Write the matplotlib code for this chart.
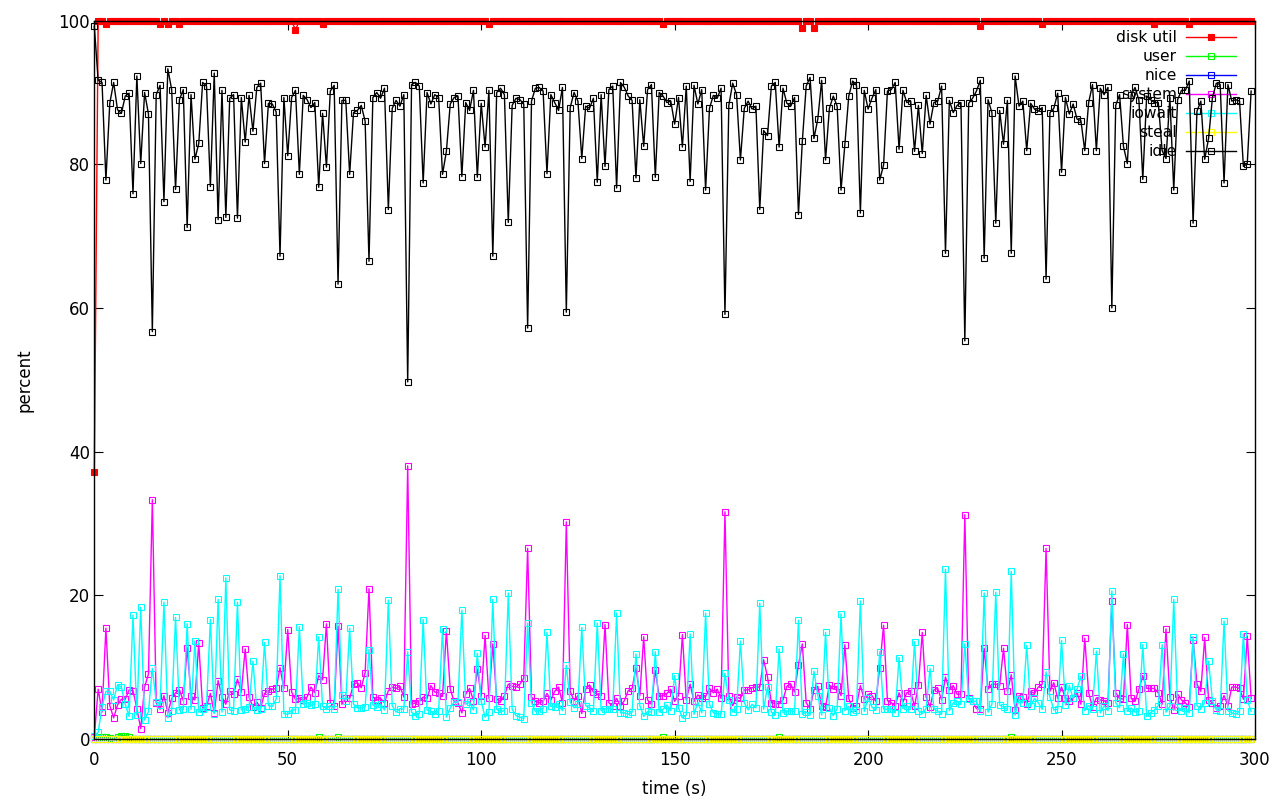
import matplotlib
matplotlib.use("Agg")
import matplotlib.pyplot as plt
import numpy as np

# one sample per second, 300 samples
seconds = list(range(300))

disk_util = [
    37.2, 100, 100, 99.6, 100, 100, 100, 100, 100, 100, 100, 100, 100, 100, 100, 100, 100, 99.6, 100, 99.6,
    100, 100, 99.6, 100, 100, 100, 100, 100, 100, 100, 100, 100, 100, 100, 100, 100, 100, 100, 100, 100,
    100, 100, 100, 100, 100, 100, 100, 100, 100, 100, 100, 100, 98.7, 100, 100, 100, 100, 100, 100, 99.6,
    100, 100, 100, 100, 100, 100, 100, 100, 100, 100, 100, 100, 100, 100, 100, 100, 100, 100, 100, 100,
    100, 100, 100, 100, 100, 100, 100, 100, 100, 100, 100, 100, 100, 100, 100, 100, 100, 100, 100, 100,
    100, 100, 99.6, 100, 100, 100, 100, 100, 100, 100, 100, 100, 100, 100, 100, 100, 100, 100, 100, 100,
    100, 100, 100, 100, 100, 100, 100, 100, 100, 100, 100, 100, 100, 100, 100, 100, 100, 100, 100, 100,
    100, 100, 100, 100, 100, 100, 100, 99.6, 100, 100, 100, 100, 100, 100, 100, 100, 100, 100, 100, 100,
    100, 100, 100, 100, 100, 100, 100, 100, 100, 100, 100, 100, 100, 100, 100, 100, 100, 100, 100, 100,
    100, 100, 100, 99.0, 100, 100, 99.0, 100, 100, 100, 100, 100, 100, 100, 100, 100, 100, 100, 100, 100,
    100, 100, 100, 100, 100, 100, 100, 100, 100, 100, 100, 100, 100, 100, 100, 100, 100, 100, 100, 100,
    100, 100, 100, 100, 100, 100, 100, 100, 100, 99.2, 100, 100, 100, 100, 100, 100, 100, 100, 100, 100,
    100, 100, 100, 100, 100, 99.6, 100, 100, 100, 100, 100, 100, 100, 100, 100, 100, 100, 100, 100, 100,
    100, 100, 100, 100, 100, 100, 100, 100, 100, 100, 100, 100, 100, 100, 99.6, 100, 100, 100, 100, 100,
    100, 100, 100, 99.6, 100, 100, 100, 100, 100, 100, 100, 100, 100, 100, 100, 100, 100, 100, 100, 100,
]

user = [
    0.0, 0.2, 0.2, 0.2, 0.1, 0.0, 0.3, 0.4, 0.4, 0.3, 0.0, 0.0, 0.0, 0.0, 0.0, 0.0, 0.0, 0.0, 0.0, 0.0,
    0.0, 0.0, 0.0, 0.0, 0.0, 0.0, 0.0, 0.0, 0.0, 0.0, 0.0, 0.0, 0.0, 0.0, 0.0, 0.0, 0.0, 0.0, 0.0, 0.0,
    0.0, 0.0, 0.0, 0.0, 0.0, 0.0, 0.0, 0.0, 0.0, 0.0, 0.0, 0.0, 0.0, 0.0, 0.0, 0.0, 0.0, 0.0, 0.2, 0.0,
    0.0, 0.0, 0.0, 0.2, 0.0, 0.0, 0.0, 0.0, 0.0, 0.0, 0.0, 0.0, 0.0, 0.0, 0.0, 0.0, 0.0, 0.0, 0.0, 0.0,
    0.0, 0.0, 0.0, 0.0, 0.0, 0.0, 0.0, 0.0, 0.0, 0.0, 0.0, 0.0, 0.0, 0.0, 0.0, 0.0, 0.0, 0.0, 0.0, 0.0,
    0.0, 0.0, 0.0, 0.0, 0.0, 0.0, 0.0, 0.0, 0.0, 0.0, 0.0, 0.0, 0.0, 0.0, 0.0, 0.0, 0.0, 0.0, 0.0, 0.0,
    0.0, 0.0, 0.0, 0.0, 0.0, 0.0, 0.0, 0.0, 0.0, 0.0, 0.0, 0.0, 0.0, 0.0, 0.0, 0.0, 0.0, 0.0, 0.0, 0.0,
    0.0, 0.0, 0.0, 0.0, 0.0, 0.0, 0.0, 0.2, 0.0, 0.0, 0.0, 0.0, 0.0, 0.0, 0.0, 0.0, 0.0, 0.0, 0.0, 0.0,
    0.0, 0.0, 0.0, 0.0, 0.0, 0.0, 0.0, 0.0, 0.0, 0.0, 0.0, 0.0, 0.0, 0.0, 0.0, 0.0, 0.0, 0.2, 0.0, 0.0,
    0.0, 0.0, 0.0, 0.0, 0.0, 0.0, 0.0, 0.0, 0.0, 0.0, 0.0, 0.0, 0.0, 0.0, 0.0, 0.0, 0.0, 0.0, 0.0, 0.0,
    0.0, 0.0, 0.0, 0.0, 0.0, 0.0, 0.0, 0.0, 0.0, 0.0, 0.0, 0.0, 0.0, 0.0, 0.0, 0.0, 0.0, 0.0, 0.0, 0.0,
    0.0, 0.0, 0.0, 0.0, 0.0, 0.0, 0.0, 0.0, 0.0, 0.0, 0.0, 0.0, 0.0, 0.0, 0.0, 0.0, 0.0, 0.2, 0.0, 0.0,
    0.0, 0.0, 0.0, 0.0, 0.0, 0.0, 0.0, 0.0, 0.0, 0.0, 0.0, 0.0, 0.0, 0.0, 0.0, 0.0, 0.0, 0.0, 0.0, 0.0,
    0.0, 0.0, 0.0, 0.0, 0.0, 0.0, 0.0, 0.0, 0.0, 0.0, 0.0, 0.0, 0.0, 0.0, 0.0, 0.0, 0.0, 0.0, 0.0, 0.0,
    0.0, 0.0, 0.0, 0.0, 0.0, 0.0, 0.0, 0.0, 0.0, 0.0, 0.0, 0.0, 0.0, 0.0, 0.0, 0.0, 0.0, 0.0, 0.0, 0.0,
]

nice = np.zeros(300)
steal = np.zeros(300)

system = [
    0.3, 6.9, 3.7, 15.4, 4.6, 2.9, 4.7, 5.5, 5.5, 6.8,
    6.7, 4.2, 1.4, 7.2, 9.0, 33.3, 5.0, 4.1, 6.0, 3.6,
    5.6, 6.4, 6.8, 5.3, 12.7, 6.0, 5.4, 13.3, 4.3, 4.5,
    6.3, 3.6, 8.1, 5.8, 4.8, 6.6, 6.2, 8.3, 6.5, 12.5,
    5.8, 4.4, 5.1, 4.3, 6.3, 6.7, 6.9, 7.0, 9.9, 7.0,
    15.2, 6.5, 5.5, 5.6, 5.4, 5.8, 7.2, 6.4, 8.8, 8.2,
    16.0, 5.0, 4.6, 15.7, 4.8, 5.6, 5.6, 7.6, 7.8, 7.1,
    9.2, 20.9, 5.8, 5.4, 5.6, 5.0, 6.7, 7.2, 7.0, 7.3,
    5.8, 38.0, 4.8, 5.0, 5.2, 5.8, 5.6, 7.4, 6.5, 6.4,
    5.9, 15.0, 6.9, 5.2, 5.0, 3.6, 6.2, 7.0, 5.3, 9.7,
    5.9, 14.4, 5.6, 13.2, 5.5, 5.2, 6.0, 7.6, 7.3, 7.2,
    7.6, 8.4, 26.5, 5.8, 5.2, 5.0, 5.2, 6.3, 5.4, 6.6,
    7.2, 5.0, 30.2, 6.6, 5.3, 6.0, 3.5, 6.9, 7.5, 6.5,
    6.2, 6.0, 15.9, 5.0, 4.6, 5.6, 4.6, 5.3, 6.7, 7.0,
    9.9, 6.0, 14.2, 5.4, 4.8, 9.5, 5.9, 6.0, 6.3, 6.9,
    5.2, 6.0, 14.5, 5.4, 7.6, 5.2, 6.1, 5.6, 5.9, 7.0,
    6.4, 6.9, 5.6, 31.6, 6.0, 4.6, 5.8, 5.6, 6.8, 6.8,
    7.1, 7.2, 7.2, 11.0, 8.6, 5.0, 4.9, 4.9, 5.4, 7.3,
    7.6, 6.5, 10.3, 13.2, 5.0, 4.2, 6.8, 7.3, 4.6, 4.4,
    7.5, 6.9, 7.3, 6.0, 13.1, 5.6, 4.3, 4.6, 7.4, 5.5,
    6.2, 6.0, 5.2, 9.9, 15.8, 5.3, 5.0, 4.6, 6.4, 5.1,
    6.4, 6.6, 4.5, 7.5, 14.8, 5.8, 4.4, 6.8, 7.0, 5.4,
    8.6, 6.8, 7.4, 6.2, 6.2, 31.2, 5.6, 5.2, 4.2, 4.1,
    12.6, 6.9, 7.6, 7.6, 7.4, 12.6, 6.6, 8.9, 4.0, 6.0,
    5.8, 4.9, 6.6, 6.3, 7.2, 7.6, 26.5, 6.6, 7.8, 5.6,
    7.2, 5.6, 5.2, 5.6, 6.4, 4.8, 14.0, 6.4, 4.4, 5.7,
    5.4, 5.3, 5.0, 19.2, 6.4, 5.6, 5.5, 15.9, 5.6, 5.2,
    6.9, 8.8, 7.0, 7.0, 7.0, 6.4, 4.8, 15.3, 5.8, 4.0,
    6.2, 5.4, 5.0, 4.4, 13.8, 7.6, 6.6, 14.1, 5.4, 5.0,
    4.3, 4.6, 6.0, 4.6, 7.2, 7.2, 7.0, 5.5, 14.3, 5.6,
]

iowait = [
    0.4, 0.9, 4.4, 6.6, 6.6, 5.4, 7.5, 7.2, 4.8, 3.1,
    17.2, 3.3, 18.3, 2.6, 3.8, 9.8, 5.1, 4.7, 19.0, 2.9,
    3.9, 16.9, 4.0, 4.1, 16.0, 4.1, 13.6, 3.7, 4.1, 4.4,
    16.6, 3.5, 19.4, 3.7, 22.4, 4.0, 3.9, 19.0, 4.0, 4.2,
    4.4, 10.8, 4.0, 4.2, 13.4, 4.6, 4.5, 5.5, 22.7, 3.5,
    3.4, 4.0, 4.0, 15.6, 4.8, 5.0, 4.7, 4.8, 14.2, 4.5,
    4.2, 4.6, 4.2, 20.8, 6.1, 5.3, 15.4, 4.8, 4.3, 4.3,
    4.4, 12.4, 4.7, 4.4, 4.8, 4.0, 19.3, 4.6, 3.7, 4.2,
    4.1, 12.1, 3.7, 3.2, 3.5, 16.6, 4.0, 3.8, 3.4, 3.9,
    15.3, 3.0, 4.3, 5.1, 5.1, 17.9, 4.8, 5.1, 4.0, 11.9,
    5.2, 3.0, 3.7, 19.4, 4.1, 3.8, 3.9, 20.3, 4.1, 3.2,
    3.0, 2.8, 16.1, 5.0, 3.8, 3.9, 4.2, 14.8, 4.5, 4.4,
    4.9, 3.9, 10.2, 5.1, 4.3, 4.8, 15.5, 4.6, 4.3, 3.9,
    16.1, 3.9, 4.2, 4.2, 4.1, 17.5, 3.6, 3.6, 3.4, 3.7,
    11.8, 4.6, 3.1, 3.8, 3.7, 12.1, 3.7, 4.1, 4.7, 3.9,
    8.8, 4.3, 2.9, 3.3, 14.6, 3.4, 5.1, 3.6, 17.5, 4.8,
    3.6, 3.5, 3.4, 9.1, 5.4, 3.7, 4.1, 13.6, 5.0, 4.0,
    4.8, 4.3, 18.9, 4.1, 7.2, 3.7, 3.3, 12.5, 3.6, 3.8,
    3.9, 3.8, 16.5, 3.4, 3.7, 3.3, 9.4, 6.0, 3.3, 14.8,
    4.3, 3.2, 4.2, 17.4, 3.9, 4.5, 3.7, 4.0, 19.2, 3.8,
    5.7, 4.4, 4.0, 12.1, 4.1, 4.1, 4.2, 3.6, 11.3, 4.2,
    4.6, 4.2, 13.5, 3.9, 3.5, 4.2, 9.8, 4.2, 3.8, 3.5,
    23.6, 3.9, 5.0, 5.2, 4.8, 13.2, 5.5, 5.2, 5.2, 3.8,
    20.3, 3.7, 4.8, 20.4, 4.7, 4.4, 4.1, 23.3, 3.3, 5.5,
    5.0, 13.0, 4.5, 5.6, 5.0, 4.1, 9.3, 5.8, 4.0, 4.1,
    13.7, 4.7, 7.4, 5.6, 6.9, 8.7, 3.9, 4.6, 4.1, 12.2,
    3.6, 4.6, 3.9, 20.6, 5.0, 4.3, 11.8, 3.8, 4.3, 3.7,
    3.8, 13.1, 3.1, 3.6, 4.0, 4.6, 13.1, 3.7, 4.5, 19.4,
    4.4, 3.9, 4.3, 3.6, 14.2, 4.6, 4.2, 5.0, 10.8, 5.3,
    4.0, 3.9, 16.4, 3.9, 3.6, 3.4, 3.8, 14.6, 5.4, 3.8,
]

idle = [
    99.2, 91.7, 91.4, 77.8, 88.5, 91.4, 87.6, 87.1, 89.5, 89.9,
    75.9, 92.3, 80.1, 90.0, 87.0, 56.7, 89.7, 91.0, 74.8, 93.3,
    90.4, 76.5, 89.0, 90.4, 71.2, 89.7, 80.7, 82.9, 91.4, 90.9,
    76.9, 92.7, 72.3, 90.3, 72.6, 89.2, 89.7, 72.5, 89.3, 83.1,
    89.6, 84.6, 90.7, 91.3, 80.1, 88.5, 88.4, 87.3, 67.2, 89.3,
    81.2, 89.3, 90.3, 78.6, 89.6, 89.0, 87.9, 88.6, 76.8, 87.1,
    79.6, 90.2, 91.0, 63.3, 88.9, 88.9, 78.6, 87.2, 87.5, 88.2,
    86.0, 66.5, 89.3, 90.0, 89.2, 90.6, 73.7, 87.8, 88.9, 88.1,
    89.7, 49.7, 91.1, 91.4, 90.9, 77.4, 90.0, 88.4, 89.7, 89.3,
    78.6, 81.8, 88.4, 89.3, 89.5, 78.3, 88.6, 87.5, 90.3, 78.2,
    88.5, 82.4, 90.3, 67.2, 90.0, 90.6, 89.7, 71.9, 88.2, 89.2,
    89.0, 88.4, 57.2, 88.8, 90.6, 90.7, 90.2, 78.7, 89.7, 88.6,
    87.5, 90.7, 59.4, 87.9, 90.0, 88.8, 80.8, 88.1, 87.8, 89.2,
    77.5, 89.7, 79.7, 90.4, 90.9, 76.7, 91.4, 90.7, 89.5, 88.9,
    78.1, 89.0, 82.5, 90.4, 91.1, 78.2, 90.0, 89.5, 88.6, 88.8,
    85.6, 89.3, 82.4, 90.9, 77.6, 91.0, 88.4, 90.4, 76.4, 87.8,
    89.6, 89.2, 90.6, 59.1, 88.2, 91.3, 89.7, 80.6, 87.8, 88.8,
    87.7, 88.1, 73.7, 84.7, 84.0, 90.9, 91.4, 82.4, 90.6, 88.5,
    88.1, 89.3, 73.0, 83.2, 90.9, 92.1, 83.6, 86.3, 91.7, 80.6,
    87.8, 89.5, 88.1, 76.4, 82.8, 89.5, 91.6, 91.0, 73.2, 90.3,
    87.7, 89.2, 90.4, 77.8, 79.9, 90.2, 90.4, 91.4, 82.1, 90.3,
    88.6, 88.8, 81.8, 88.2, 81.5, 89.6, 85.6, 88.6, 88.8, 90.9,
    67.6, 88.9, 87.2, 88.2, 88.6, 55.4, 88.5, 89.2, 90.2, 91.7,
    66.9, 89.0, 87.2, 71.8, 87.5, 82.8, 88.9, 67.6, 92.3, 88.1,
    88.8, 81.9, 88.5, 87.7, 87.4, 87.9, 64.0, 87.2, 87.8, 89.9,
    78.9, 89.3, 87.0, 88.4, 86.3, 86.1, 81.9, 88.6, 91.1, 81.9,
    90.6, 89.7, 90.7, 60.0, 88.2, 89.7, 82.5, 80.1, 89.7, 90.7,
    88.9, 77.9, 89.5, 89.0, 88.6, 88.6, 81.9, 80.8, 89.3, 76.4,
    89.0, 90.3, 90.3, 91.6, 71.8, 87.4, 88.8, 80.7, 83.6, 89.3,
    91.3, 91.1, 77.4, 91.1, 88.8, 89.0, 88.8, 79.7, 80.1, 90.2,
]


def main():
    plt.rcParams['font.family'] = ['DejaVu Sans']
    fig = plt.figure(figsize=(12.8, 8), dpi=100)
    ax = fig.add_axes([94.3 / 1280, 1 - 738.7 / 800, (1255 - 94.3) / 1280, 718 / 800])

    # same order as gnuplot draws them
    series = [
        ('disk util', disk_util, '#ff0000', True),
        ('user', user, '#00ff00', False),
        ('nice', nice, '#0000ff', False),
        ('system', system, '#ff00ff', False),
        ('iowait', iowait, '#00ffff', False),
        ('steal', steal, '#ffff00', False),
        ('idle', idle, '#000000', False),
    ]
    for name, vals, color, filled in series:
        ax.plot(seconds, vals, color=color, lw=1.0, marker='s',
                markersize=4.2 if filled else 3.8,
                markerfacecolor=color if filled else 'none',
                markeredgecolor=color, markeredgewidth=0.8,
                label=name, clip_on=False)

    ax.set_xlim(0, 300)
    ax.set_ylim(0, 100)
    ax.set_xticks(np.arange(0, 301, 50))
    ax.set_yticks(np.arange(0, 101, 20))
    ax.tick_params(direction='in', length=6.5, width=0.8, top=True, right=True,
                   labelsize=12)
    ax.tick_params(axis='x', pad=9)
    ax.tick_params(axis='y', pad=3)
    for sp in ax.spines.values():
        sp.set_linewidth(1.0)

    ax.set_xlabel('time (s)', fontsize=12)
    ax.set_ylabel('percent', fontsize=12)
    ax.xaxis.set_label_coords(0.5, -0.058)
    ax.yaxis.set_label_coords(-0.052, 0.5)

    leg = ax.legend(loc='upper right', bbox_to_anchor=(1236 / 1280, 1 - 30 / 800),
                    bbox_transform=fig.transFigure, frameon=False, markerfirst=False,
                    fontsize=11.2, handlelength=3.2, handletextpad=0.6,
                    labelspacing=0.26, borderpad=0, borderaxespad=0)
    leg.set_zorder(1)

    fig.savefig('out.png', dpi=100)


if __name__ == "__main__":
    main()
